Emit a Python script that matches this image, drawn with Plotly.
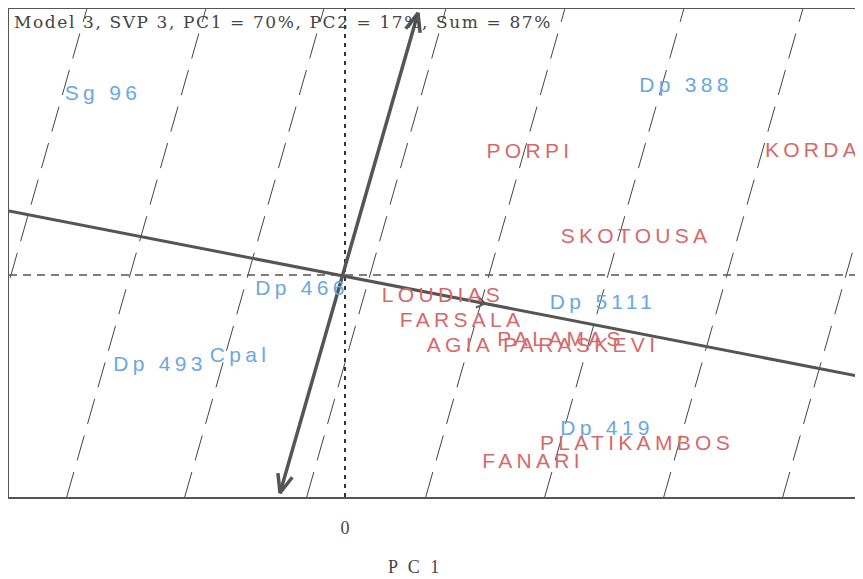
import numpy as np
import plotly.graph_objects as go

# ---- data ----
sample_labels = ["Sg 96", "Dp 388", "Dp 466", "Dp 5111", "Dp 493", "Cpal", "Dp 419"]
sample_x = [-2.42, 3.41, -0.43, 2.58, -1.85, -1.05, 2.62]
sample_y = [1.80, 1.88, -0.15, -0.29, -0.91, -0.82, -1.55]

site_labels = ["PORPI", "KORDA", "SKOTOUSA", "LOUDIAS", "FARSALA", "PALAMAS",
               "AGIA PARASKEVI", "PLATIKAMBOS", "FANARI"]
site_x = [1.85, 4.68, 2.91, 0.98, 1.17, 2.16, 1.98, 2.92, 1.88]
site_y = [1.22, 1.23, 0.37, -0.22, -0.47, -0.66, -0.72, -1.70, -1.88]

# biplot axis 1 (solid line) end points
axis1_x = [-3.36, 5.18]
axis1_y = [0.64, -1.02]
# small marker arrow on axis 1
marker1_x = [1.40]
# biplot axis 2 (double arrow) end points
axis2_x = [-0.65, 0.73]
axis2_y = [-2.18, 2.62]
# calibration lines: crossing points on PC2 = 0 and their direction (dx per dy)
calib_x0 = [-3.34, -2.15, -0.97, 0.25, 1.44, 2.63, 3.82, 5.01]
calib_slope = 0.285

x_range = [-3.36, 5.18]
y_range = [-2.22, 2.66]

title_text = "Model 3, SVP 3, PC1 = 70%, PC2 = 17%, Sum = 87%"
x_title = "P C 1"

RED = "#d46a6a"
BLUE = "#6aa8e0"
LINE = "#555555"

fig = go.Figure()

# calibration dashed lines
for x0 in calib_x0:
    ys = np.array(y_range)
    xs = x0 + calib_slope * ys
    fig.add_trace(go.Scatter(x=xs, y=ys, mode="lines",
                             line=dict(color="#444444", width=1, dash="26px,12px"),
                             hoverinfo="skip", showlegend=False))

# zero lines
fig.add_trace(go.Scatter(x=x_range, y=[0, 0], mode="lines",
                         line=dict(color=LINE, width=1.5, dash="8px,6px"),
                         hoverinfo="skip", showlegend=False))
fig.add_trace(go.Scatter(x=[0, 0], y=y_range, mode="lines",
                         line=dict(color="#333333", width=2, dash="4px,5px"),
                         hoverinfo="skip", showlegend=False))

# axis 1
fig.add_trace(go.Scatter(x=axis1_x, y=axis1_y, mode="lines",
                         line=dict(color=LINE, width=3),
                         hoverinfo="skip", showlegend=False))
# axis 2 with arrowheads
fig.add_trace(go.Scatter(x=axis2_x, y=axis2_y, mode="lines",
                         line=dict(color=LINE, width=3.5),
                         hoverinfo="skip", showlegend=False))

def head(tx, ty, fx, fy, length=0.2, ang=np.deg2rad(22)):
    d = np.array([fx - tx, fy - ty])
    d = d / np.linalg.norm(d)
    out = []
    for s in (ang, -ang):
        r = np.array([[np.cos(s), -np.sin(s)], [np.sin(s), np.cos(s)]])
        v = r @ d * length
        out.append((tx + v[0], ty + v[1]))
    return out

for i, j in ((1, 0), (0, 1)):
    (ax1, ay1), (ax2, ay2) = head(axis2_x[i], axis2_y[i], axis2_x[j], axis2_y[j])
    fig.add_trace(go.Scatter(x=[ax1, axis2_x[i], ax2], y=[ay1, axis2_y[i], ay2], mode="lines",
                             line=dict(color=LINE, width=3.5),
                             hoverinfo="skip", showlegend=False))

# small arrow marker on axis 1
slope1 = (axis1_y[1] - axis1_y[0]) / (axis1_x[1] - axis1_x[0])
for mx in marker1_x:
    my = axis1_y[0] + slope1 * (mx - axis1_x[0])
    (bx1, by1), (bx2, by2) = head(mx, my, axis1_x[0], axis1_y[0], length=0.1, ang=np.deg2rad(35))
    fig.add_trace(go.Scatter(x=[bx1, mx, bx2], y=[by1, my, by2], mode="lines",
                             line=dict(color=LINE, width=2),
                             hoverinfo="skip", showlegend=False))

SP = '<span style="letter-spacing:4.3px">{}</span>'
fig.add_trace(go.Scatter(x=sample_x, y=sample_y, mode="text",
                         text=[SP.format(t) for t in sample_labels],
                         textfont=dict(family="Liberation Sans, Arial", size=21, color=BLUE),
                         textposition="middle center", hoverinfo="skip", showlegend=False,
                         cliponaxis=False))
fig.add_trace(go.Scatter(x=site_x, y=site_y, mode="text",
                         text=[SP.format(t) for t in site_labels],
                         textfont=dict(family="Liberation Sans, Arial", size=21, color=RED),
                         textposition="middle center", hoverinfo="skip", showlegend=False,
                         cliponaxis=False))

fig.update_layout(
    width=855, height=571,
    margin=dict(l=1, r=0, t=1, b=82),
    paper_bgcolor="white", plot_bgcolor="white",
    showlegend=False,
    xaxis=dict(range=x_range, showgrid=False, zeroline=False,
               showline=True, linecolor=LINE, linewidth=1.5, mirror=True,
               tickvals=[0], ticktext=["0"], ticks="", ticklabelstandoff=14,
               tickfont=dict(family="Liberation Serif, Times New Roman", size=18, color="#444444")),
    yaxis=dict(range=y_range, showgrid=False, zeroline=False,
               showline=True, linecolor=LINE, linewidth=1.5, mirror=False,
               showticklabels=False, ticks=""),
    annotations=[
        dict(text='<span style="letter-spacing:1.6px">' + title_text + '</span>',
             xref="paper", yref="paper", x=0.004, y=0.997, xanchor="left", yanchor="top",
             showarrow=False,
             font=dict(family="DejaVu Serif", size=17, color="#444444")),
        dict(text='<span style="letter-spacing:3px">' + x_title + '</span>',
             xref="x", yref="paper", x=0.70, y=-0.143, xanchor="center", yanchor="middle",
             showarrow=False,
             font=dict(family="Liberation Serif, Times New Roman", size=18, color="#444444")),
    ],
)

fig.write_html("out.html")
